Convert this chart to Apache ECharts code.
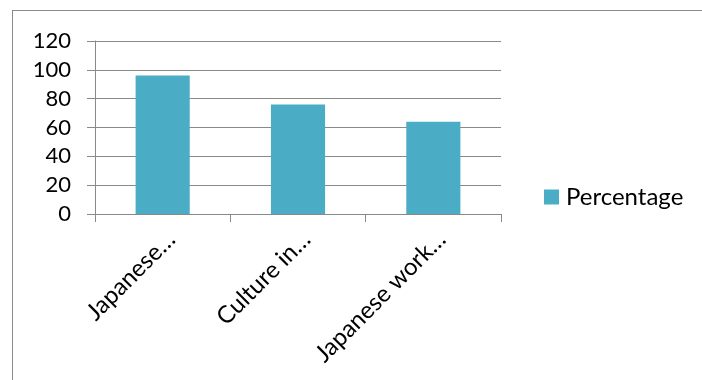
<!DOCTYPE html>
<html>
<head>
<meta charset="utf-8">
<script src="https://cdn.jsdelivr.net/npm/echarts@6/dist/echarts.min.js"></script>
<style>
html,body{margin:0;padding:0;background:#fff;}
#frame{position:absolute;left:12px;top:10px;width:800px;height:500px;border:1.5px solid #8a8a8a;box-sizing:border-box;}
#c{position:absolute;left:0;top:0;width:702px;height:380px;}
</style>
</head>
<body>
<div id="frame"></div>
<div id="c"></div>
<script>
var categories = ['Japanese…', 'Culture in…', 'Japanese work…'];
var seriesName = 'Percentage';
var percentages = [96, 76, 64];
var yMin = 0, yMax = 120, yStep = 20;

var FONT = 'Lato';
var chart = echarts.init(document.getElementById('c'), null, {renderer: 'canvas'});
chart.setOption({
  animation: false,
  backgroundColor: 'transparent',
  textStyle: {fontFamily: FONT},
  grid: {left: 95, right: 201, top: 41, bottom: 166, containLabel: false},
  legend: {
    show: true,
    data: [seriesName],
    left: 544, top: 185, padding: 0,
    orient: 'vertical',
    icon: 'rect', itemWidth: 15, itemHeight: 15, itemGap: 0,
    textStyle: {fontFamily: FONT, fontSize: 24, color: '#000', padding: [0, 0, 0, 2]}
  },
  xAxis: {
    type: 'category',
    data: categories,
    boundaryGap: true,
    axisLine: {show: true, lineStyle: {color: '#898989', width: 1}},
    axisTick: {show: true, length: 8, alignWithLabel: false, lineStyle: {color: '#898989', width: 1}},
    axisLabel: {
      interval: 0, rotate: 45, margin: 13,
      align: 'right', verticalAlign: 'top',
      fontFamily: FONT, fontSize: 24, color: '#000'
    },
    splitLine: {show: false}
  },
  yAxis: {
    type: 'value',
    min: yMin, max: yMax, interval: yStep,
    axisLine: {show: true, lineStyle: {color: '#898989', width: 1}},
    axisTick: {show: true, length: 8, lineStyle: {color: '#898989', width: 1}},
    axisLabel: {margin: 24, fontFamily: FONT, fontSize: 22, color: '#000'},
    splitLine: {show: true, lineStyle: {color: '#898989', width: 1}}
  },
  series: [{
    name: seriesName,
    type: 'bar',
    data: percentages,
    barWidth: '40%',
    itemStyle: {color: '#4BACC6'}
  }]
});
</script>
</body>
</html>
